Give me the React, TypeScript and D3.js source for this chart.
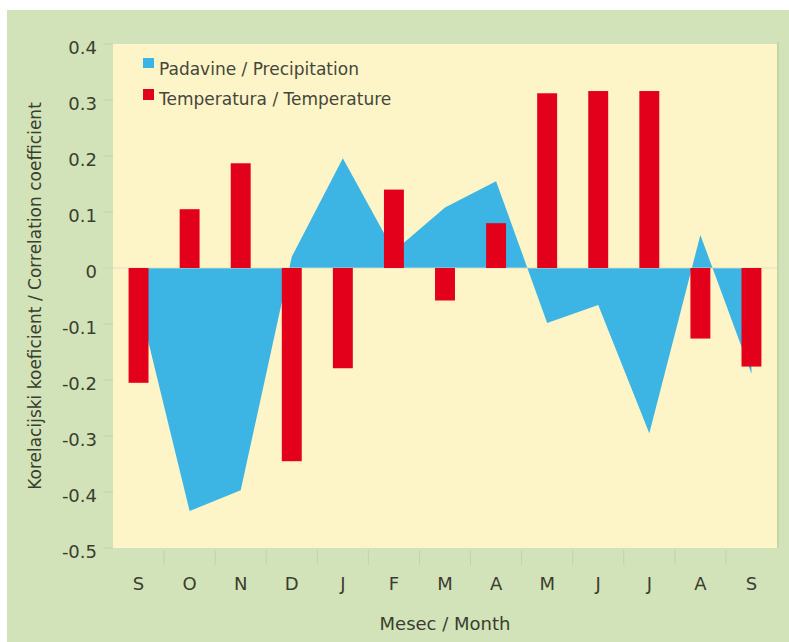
import React from "react";
import * as d3 from "d3";

const months = ["S", "O", "N", "D", "J", "F", "M", "A", "M", "J", "J", "A", "S"];
const temperature = [-0.205, 0.105, 0.187, -0.345, -0.179, 0.14, -0.058, 0.08, 0.312, 0.316, 0.316, -0.126, -0.176];
const precipitation = [-0.06, -0.434, -0.397, 0.02, 0.196, 0.03, 0.108, 0.155, -0.098, -0.066, -0.295, 0.059, -0.189];
const yTicks = [0.4, 0.3, 0.2, 0.1, 0, -0.1, -0.2, -0.3, -0.4, -0.5];
const legendLabels = ["Padavine / Precipitation", "Temperatura / Temperature"];
const yTitle = "Korelacijski koeficient / Correlation coefficient";
const xTitle = "Mesec / Month";

const W = 789;
const H = 642;
const plot = { left: 113, right: 777, top: 44, bottom: 548 };
const BLUE = "#3cb4e4";
const RED = "#e2001a";
const GREEN = "#d3e3b9";
const CREAM = "#fdf4c8";
const TEXT = "#3a3e2e";
const FONT = "'DejaVu Sans', sans-serif";

export default function App() {
  const idx = months.map((_, i) => i);
  const x = d3.scaleBand<number>().domain(idx).range([plot.left, plot.right]).paddingInner(0).paddingOuter(0);
  const y = d3.scaleLinear().domain([-0.5, 0.4]).range([plot.bottom, plot.top]);
  const bw = x.bandwidth();
  const cx = (i: number) => (x(i) as number) + bw / 2;
  const barW = bw * 0.39;

  const area = d3
    .area<number>()
    .x((_, i) => cx(i))
    .y0(() => y(0))
    .y1((d) => y(d));

  const fmt = (v: number) => (v === 0 ? "0" : v.toFixed(1));

  return (
    <svg width={W} height={H} style={{ position: "absolute", left: 0, top: 0 }} fontFamily={FONT}>
      <rect x={0} y={0} width={W} height={H} fill="#ffffff" />
      <rect x={7} y={10} width={W - 7} height={H - 10} fill={GREEN} />
      <rect x={plot.left} y={plot.top} width={plot.right - plot.left} height={plot.bottom - plot.top} fill={CREAM} />
      <line x1={plot.right + 1} x2={plot.right + 1} y1={plot.top - 2} y2={plot.bottom} stroke="#c3d6a6" strokeWidth={2} />

      <path d={area(precipitation) || ""} fill={BLUE} />

      {yTicks.map((t) => (
        <line key={"yt" + t} x1={103} x2={plot.left} y1={y(t)} y2={y(t)} stroke="#c6d0ad" strokeWidth={1} />
      ))}
      <line x1={100} x2={plot.right} y1={y(0)} y2={y(0)} stroke="#d8dcc4" strokeOpacity={0.8} strokeWidth={1} />

      {temperature.map((v, i) => (
        <rect
          key={"b" + i}
          x={cx(i) - barW / 2}
          y={y(Math.max(0, v))}
          width={barW}
          height={Math.abs(y(v) - y(0))}
          fill={RED}
        />
      ))}

      {idx.slice(1).map((i) => (
        <line
          key={"xt" + i}
          x1={x(i) as number}
          x2={x(i) as number}
          y1={plot.bottom + 2}
          y2={plot.bottom + 17}
          stroke="#c4d1ab"
          strokeWidth={1}
        />
      ))}

      {yTicks.map((t) => (
        <text key={"yl" + t} x={97} y={y(t) + 9.5} textAnchor="end" fontSize={18} fill={TEXT}>
          {fmt(t)}
        </text>
      ))}

      {months.map((m, i) => (
        <text key={"xl" + i} x={cx(i)} y={590} textAnchor="middle" fontSize={18} fill={TEXT}>
          {m}
        </text>
      ))}

      <text x={(plot.left + plot.right) / 2} y={630} textAnchor="middle" fontSize={18} fill={TEXT}>
        {xTitle}
      </text>
      <text transform="translate(41,296) rotate(-90)" textAnchor="middle" fontSize={17} fill={TEXT}>
        {yTitle}
      </text>

      <rect x={143} y={58} width={11} height={10} fill={BLUE} />
      <text x={159} y={75} fontSize={17} fill="#45463a">
        {legendLabels[0]}
      </text>
      <rect x={143} y={89} width={11} height={11} fill={RED} />
      <text x={159} y={105} fontSize={17} fill="#45463a">
        {legendLabels[1]}
      </text>
    </svg>
  );
}
